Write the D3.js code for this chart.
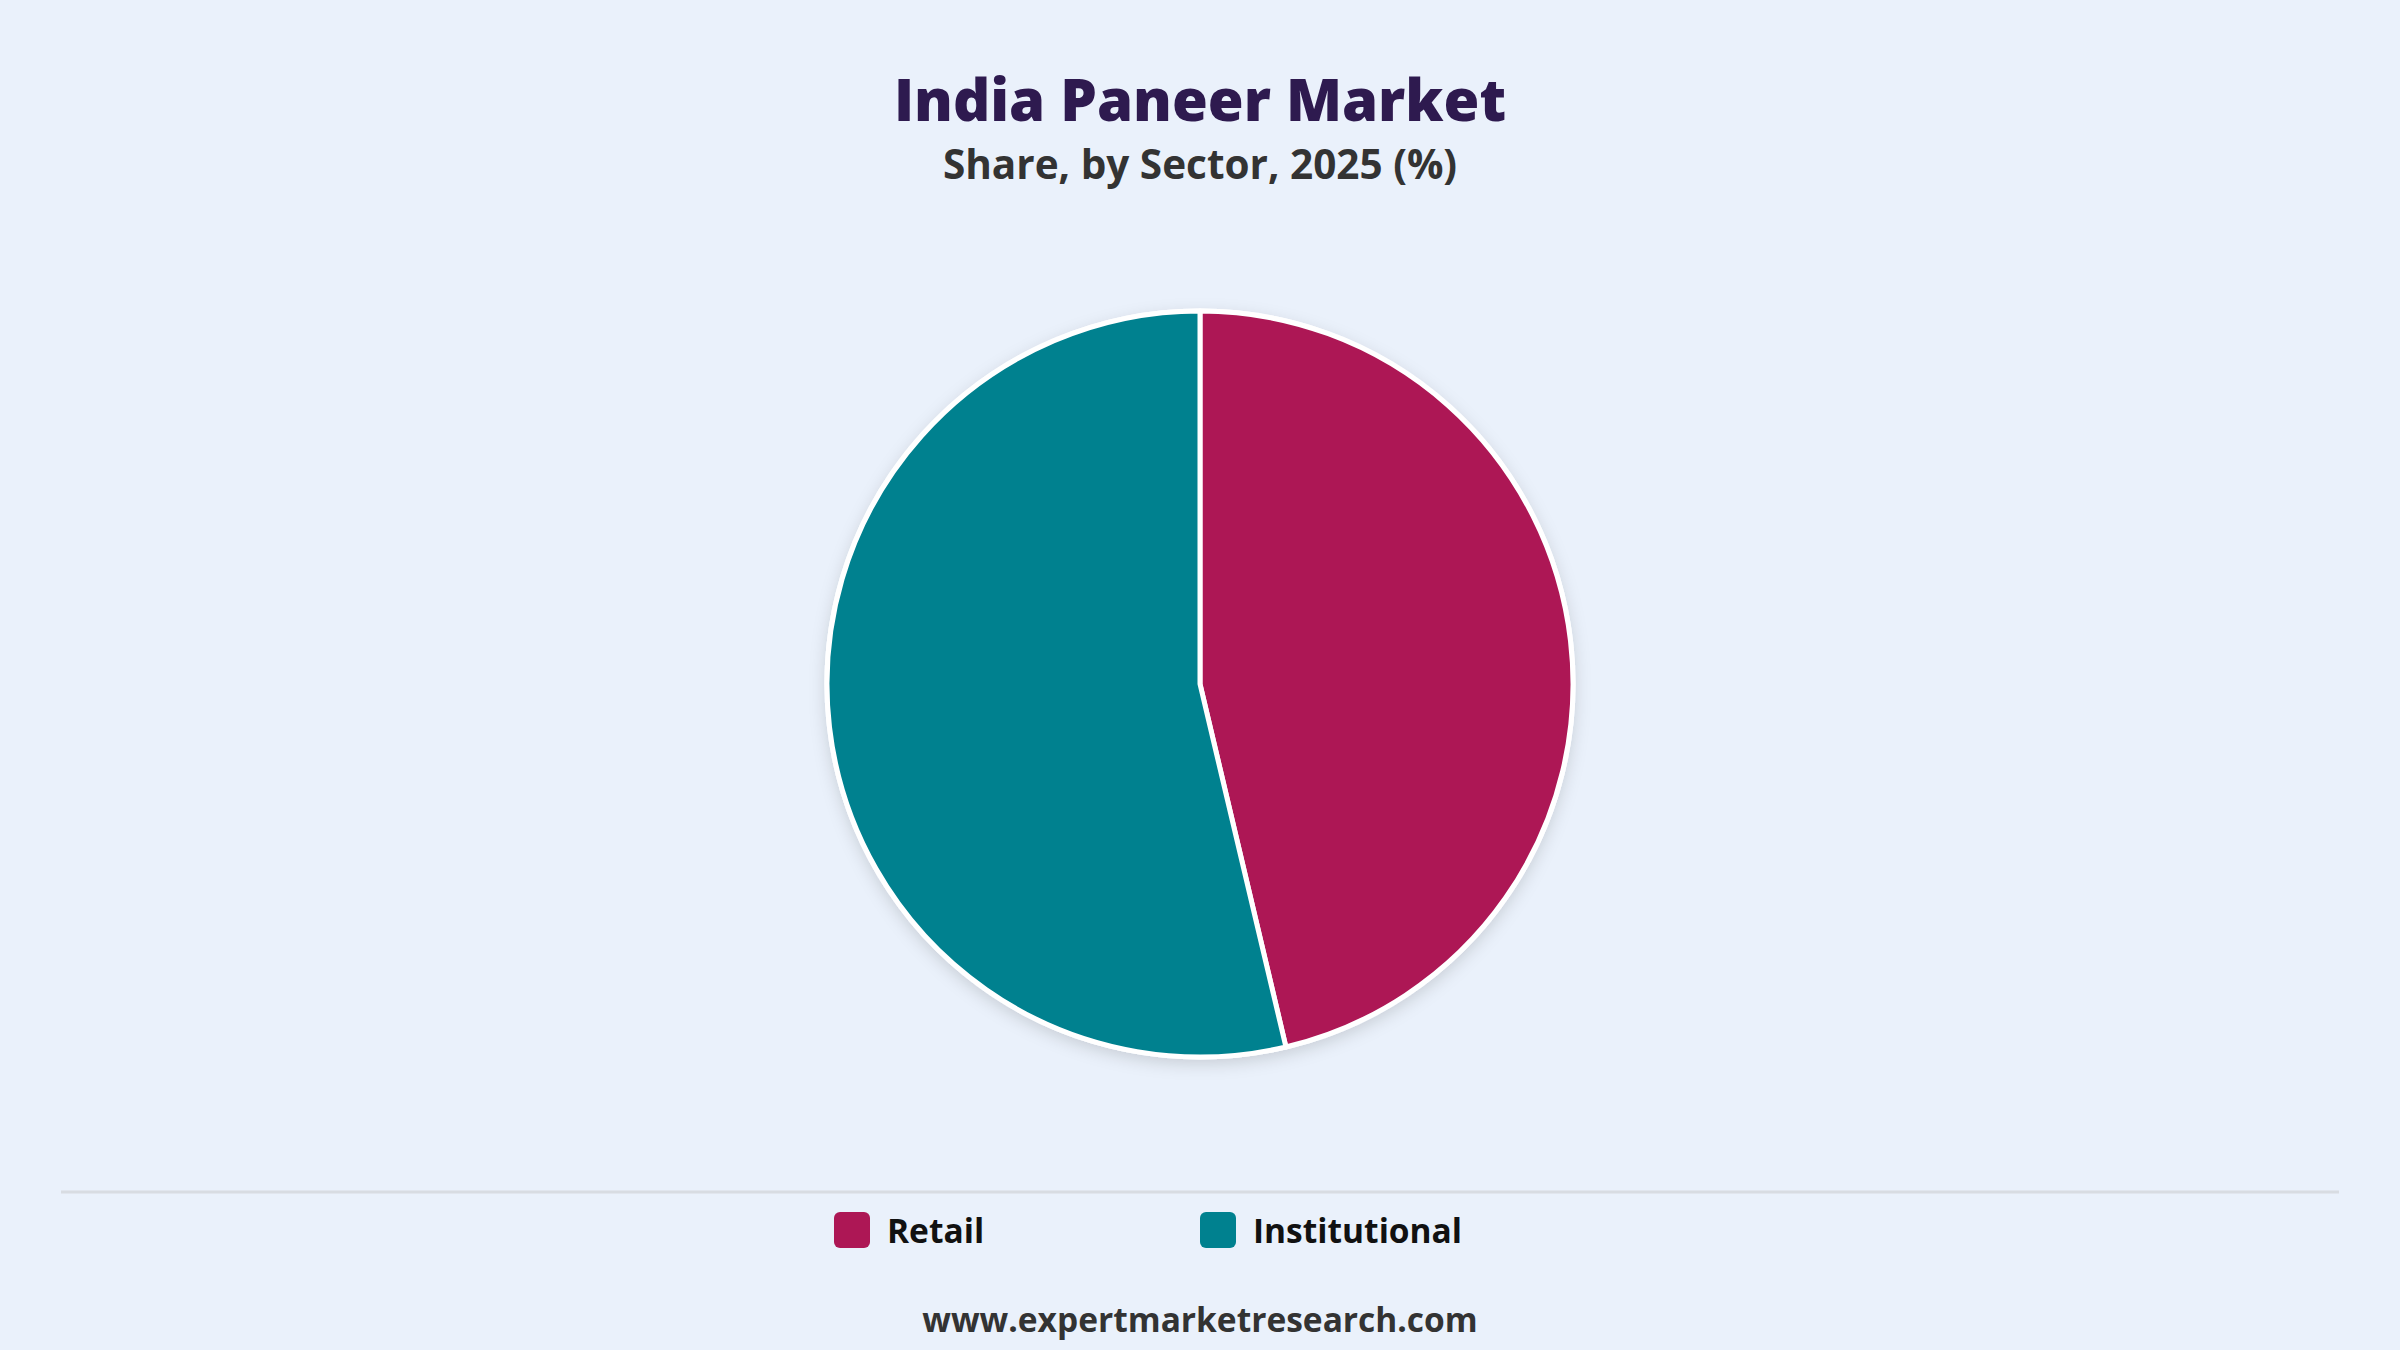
<!DOCTYPE html>
<html><head><meta charset="utf-8">
<script src="https://cdn.jsdelivr.net/npm/d3@7"></script>
<style>
html,body{margin:0;padding:0;background:#eaf1fb;}
svg{display:block;font-family:"Open Sans","Noto Sans",sans-serif;}
</style></head>
<body>
<svg id="chart" width="2400" height="1350"></svg>
<script>
const categories = ["Retail", "Institutional"];
const shares = [46.3, 53.7];
const colors = ["#ad1755", "#00818f"];
const titleText = "India Paneer Market";
const subtitleText = "Share, by Sector, 2025 (%)";
const footerText = "www.expertmarketresearch.com";

const W = 2400, H = 1350;
const svg = d3.select("#chart");
svg.append("rect").attr("width", W).attr("height", H).attr("fill", "#eaf1fb");

const defs = svg.append("defs");
const f = defs.append("filter").attr("id", "shadow").attr("x", "-20%").attr("y", "-20%").attr("width", "140%").attr("height", "140%");
f.append("feDropShadow").attr("dx", 0).attr("dy", 5).attr("stdDeviation", 8).attr("flood-color", "#000").attr("flood-opacity", 0.14);

svg.append("text").attr("x", W/2).attr("y", 121).attr("text-anchor", "middle")
  .attr("font-size", 58).attr("font-weight", 800).attr("fill", "#2e1a4f").text(titleText);
svg.append("text").attr("x", W/2).attr("y", 179).attr("text-anchor", "middle")
  .attr("font-size", 40.5).attr("font-weight", 700).attr("fill", "#333333").text(subtitleText);

const cx = 1200, cy = 684, r = 373;
const data = categories.map((c, i) => ({cat: c, value: shares[i], color: colors[i]}));
const pie = d3.pie().value(d => d.value).sort(null);
const arc = d3.arc().innerRadius(0).outerRadius(r);
const g = svg.append("g").attr("transform", `translate(${cx},${cy})`);
g.append("circle").attr("r", r + 2.5).attr("fill", "#ffffff").attr("filter", "url(#shadow)");
g.selectAll("path").data(pie(data)).enter().append("path")
  .attr("d", arc).attr("fill", d => d.data.color)
  .attr("stroke", "#ffffff").attr("stroke-width", 5).attr("stroke-linejoin", "round");

svg.append("line").attr("x1", 61).attr("x2", 2339).attr("y1", 1192).attr("y2", 1192)
  .attr("stroke", "#d8dce2").attr("stroke-width", 3);

const legendX = d3.scalePoint().domain(categories).range([834, 1200]);
const lg = svg.selectAll("g.leg").data(data).enter().append("g").attr("class", "leg")
  .attr("transform", d => `translate(${legendX(d.cat)},1212)`);
lg.append("rect").attr("width", 36).attr("height", 36).attr("rx", 6).attr("fill", d => d.color);
lg.append("text").attr("x", 53).attr("y", 31).attr("font-size", 33.5).attr("font-weight", 700)
  .attr("fill", "#111111").text(d => d.cat);

svg.append("text").attr("x", W/2).attr("y", 1332).attr("text-anchor", "middle")
  .attr("font-size", 33.5).attr("font-weight", 700).attr("fill", "#333333").text(footerText);
</script>
</body></html>
